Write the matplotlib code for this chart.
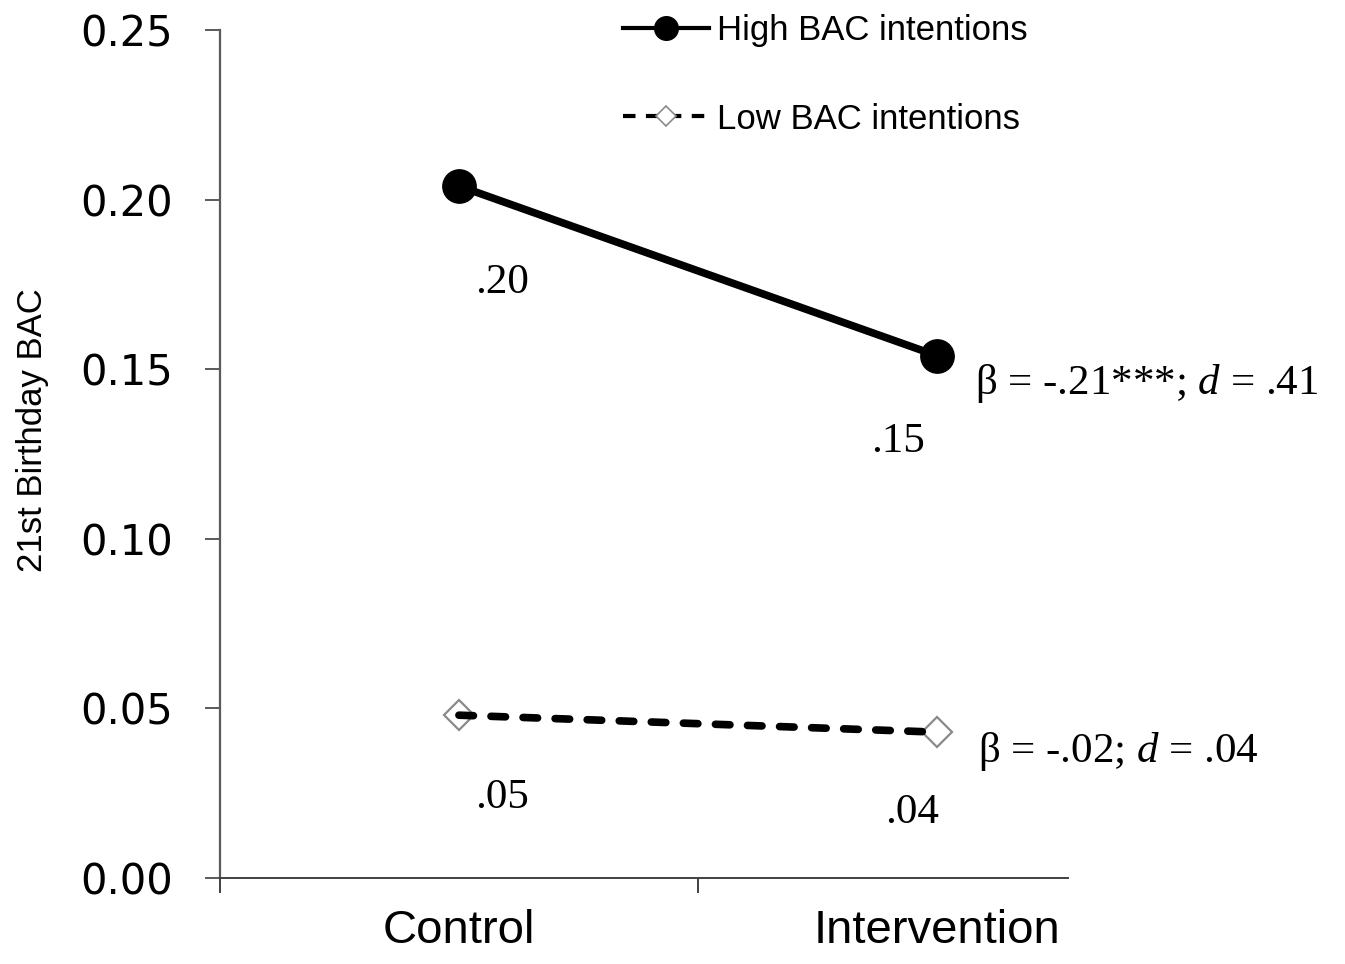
import matplotlib
matplotlib.use("Agg")
import matplotlib.pyplot as plt
from matplotlib.lines import Line2D

plt.rcParams['mathtext.fontset'] = 'custom'
plt.rcParams['mathtext.rm'] = 'Liberation Serif'
plt.rcParams['mathtext.it'] = 'Liberation Serif:italic'

# data
groups = ['Control', 'Intervention']
high_bac = [0.204, 0.154]
low_bac = [0.048, 0.043]
high_labels = ['.20', '.15']
low_labels = ['.05', '.04']
high_effect = r'β = -.21***; $\it{d}$ = .41'
low_effect = r'β = -.02; $\it{d}$ = .04'
y_ticks = [0.00, 0.05, 0.10, 0.15, 0.20, 0.25]

x = [1, 2]

fig = plt.figure(figsize=(13.45, 9.64), dpi=100)
ax = fig.add_axes([220 / 1345, 86 / 964, 848 / 1345, 848 / 964])

# high BAC intentions: solid line, filled circles
ax.plot(x, high_bac, color='black', lw=5.5, solid_capstyle='round', zorder=3)
ax.plot(x, high_bac, 'o', ms=24, color='black', zorder=4)

# low BAC intentions: open grey diamonds, dashed line drawn on top
ax.plot(x, low_bac, 'D', ms=15, mfc='white', mec='#8a8a8a', mew=1.6, ls='none', zorder=3)
ax.plot(x, low_bac, color='black', lw=5.5, ls=(0, (1.9, 2.3)),
        dash_capstyle='round', zorder=4)

serif = dict(family='Liberation Serif', fontsize=31, color='black')

# value labels below the points
high_off = [(43, -97), (-39, -86)]
low_off = [(43, -83), (-25, -81)]
for xi, yi, lab, off in zip(x, high_bac, high_labels, high_off):
    ax.annotate(lab, (xi, yi), xytext=off, textcoords='offset pixels',
                ha='center', va='center', **serif)
for xi, yi, lab, off in zip(x, low_bac, low_labels, low_off):
    ax.annotate(lab, (xi, yi), xytext=off, textcoords='offset pixels',
                ha='center', va='center', **serif)

# effect sizes to the right of the intervention points
ax.annotate(high_effect, (x[1], high_bac[1]), xytext=(38, -28),
            textcoords='offset pixels', ha='left', va='center', **serif)
ax.annotate(low_effect, (x[1], low_bac[1]), xytext=(41, -19),
            textcoords='offset pixels', ha='left', va='center', **serif)

# axes
ax.set_xlim(0.5, 2.2746)
ax.set_ylim(0, 0.25)
ax.spines['top'].set_visible(False)
ax.spines['right'].set_visible(False)
ax.spines['left'].set_color('#5a5a5a')
ax.spines['bottom'].set_color('#404040')
ax.spines['left'].set_linewidth(1.6)
ax.spines['bottom'].set_linewidth(1.4)

ax.set_yticks(y_ticks)
ax.set_yticklabels(['%.2f' % v for v in y_ticks])
ax.tick_params(axis='y', length=10.8, width=1.4, color='#5a5a5a', pad=23,
               labelsize=30, labelcolor='black')
for t in ax.get_yticklabels():
    t.set_family('DejaVu Sans')

ax.set_xticks(x)
ax.set_xticklabels(groups)
ax.set_xticks([0.5, 1.5], minor=True)
ax.tick_params(axis='x', which='major', length=0, pad=22, labelsize=34)
ax.tick_params(axis='x', which='minor', length=10.8, width=1.4, color='#404040')
for t in ax.get_xticklabels():
    t.set_family('Liberation Sans')

ax.set_ylabel('21st Birthday BAC', fontsize=25, family='Liberation Sans')
ax.yaxis.set_label_coords((33 - 220) / 848, (878 - 430) / 848)
ax.yaxis.label.set_verticalalignment('center')

# legend
handles = [
    Line2D([], [], color='black', lw=3, marker='o', ms=17),
    Line2D([], [], color='black', lw=3, ls=(0, (3, 2.5)), marker='D', ms=10,
           mfc='white', mec='#8a8a8a', mew=1.2),
]
fig.legend(handles, ['High BAC intentions', 'Low BAC intentions'],
           loc='upper left', bbox_to_anchor=(623 / 1345, (964 - 14) / 964),
           bbox_transform=fig.transFigure, frameon=False, borderpad=0,
           borderaxespad=0, handlelength=2.49, handletextpad=0.23,
           labelspacing=1.6, numpoints=1,
           prop={'family': 'Liberation Sans', 'size': 25})

fig.savefig('out.png', dpi=100)
